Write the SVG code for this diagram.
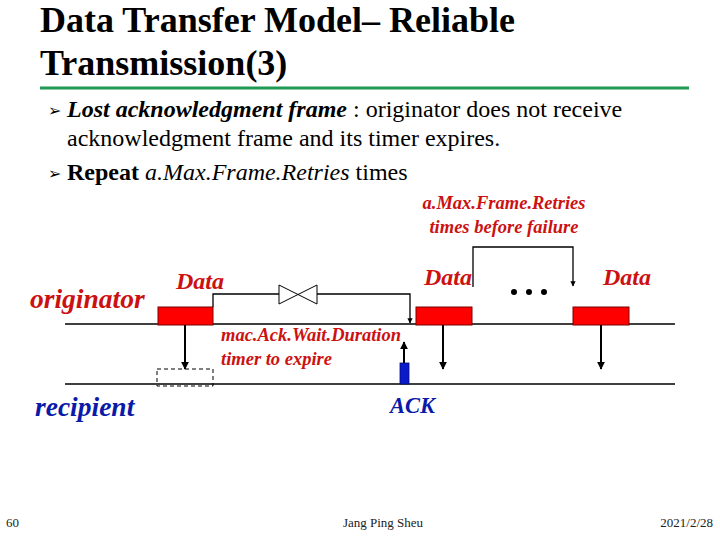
<svg xmlns="http://www.w3.org/2000/svg" width="720" height="540" viewBox="0 0 720 540" font-family="'Liberation Serif', 'Times New Roman', serif">
<style>
text{font-family:'Liberation Serif','Times New Roman',serif}
.title{font-size:36px;font-weight:bold;fill:#000}
.b{font-size:24px;fill:#000}
.red{fill:#cc1111;font-weight:bold;font-style:italic}
.blue{fill:#0a1aa8;font-style:italic;font-weight:bold}
.ln{stroke:#000;stroke-width:1.3;fill:none}
.ar{stroke:#000;stroke-width:2;fill:none}
.box{fill:#ff0000;stroke:#7a0000;stroke-width:1}
.foot{font-size:13px;fill:#222}
</style>
<defs>
<marker id="ah" viewBox="0 0 10 10" refX="9" refY="5" markerWidth="4" markerHeight="4" orient="auto">
<path d="M0,0 L10,5 L0,10 z" fill="#000"/>
</marker>
</defs>
<rect width="720" height="540" fill="#fff"/>
<g id="title">
<text class="title" x="40" y="32">Data Transfer Model– Reliable</text>
<text class="title" x="40" y="75">Transmission(3)</text>
<line x1="40" y1="88" x2="689" y2="88" stroke="#1f9a55" stroke-width="3"/>
</g>
<g id="bullets">
<text x="48" y="116" font-size="16" fill="#000" font-family="'DejaVu Sans', sans-serif">➢</text>
<text class="b" x="67" y="117"><tspan font-weight="bold" font-style="italic">Lost acknowledgment frame</tspan> : originator does not receive</text>
<text class="b" x="67" y="146">acknowledgment frame and its timer expires.</text>
<text x="48" y="179" font-size="16" fill="#000" font-family="'DejaVu Sans', sans-serif">➢</text>
<text class="b" x="67" y="180"><tspan font-weight="bold">Repeat</tspan> <tspan font-style="italic">a.Max.Frame.Retries</tspan> times</text>
</g>
<g id="retries-label">
<text class="red" x="504" y="209" font-size="18.5" text-anchor="middle">a.Max.Frame.Retries</text>
<text class="red" x="504" y="233" font-size="18.5" text-anchor="middle">times before failure</text>
</g>
<g id="originator">
<text class="red" x="30" y="308" font-size="27.5">originator</text>
</g>
<g id="recipient">
<text class="blue" x="35" y="416" font-size="27.5">recipient</text>
</g>
<g id="timelines">
<line class="ln" x1="65" y1="324" x2="675" y2="324"/>
<line class="ln" x1="65" y1="384" x2="675" y2="384"/>
</g>
<g id="data1">
<text class="red" x="176" y="289" font-size="24">Data</text>
<rect class="box" x="158" y="307" width="55" height="18"/>
</g>
<g id="lost-frame">
<rect x="157" y="369" width="56" height="17" fill="none" stroke="#000" stroke-width="1" stroke-dasharray="4,3"/>
</g>
<g id="data2">
<text class="red" x="424" y="285" font-size="24">Data</text>
<rect class="box" x="416" y="307" width="56" height="18"/>
</g>
<g id="dots">
<circle cx="514" cy="292" r="3" fill="#000"/>
<circle cx="529" cy="292" r="3" fill="#000"/>
<circle cx="544" cy="292" r="3" fill="#000"/>
</g>
<g id="data3">
<text class="red" x="603" y="285" font-size="24">Data</text>
<rect class="box" x="573" y="307" width="56" height="18"/>
</g>
<g id="ack">
<rect x="400" y="363" width="9" height="21" fill="#0a1acc" stroke="#001070" stroke-width="0.8"/>
<text class="blue" x="390" y="413" font-size="22.5">ACK</text>
</g>
<g id="timer-label">
<text class="red" x="221" y="341" font-size="18.5">mac.Ack.Wait.Duration</text>
<text class="red" x="221" y="365" font-size="18.5">timer to expire</text>
</g>
<g id="timer-symbol">
<path d="M279,285 L279,304 L317,285 L317,304 Z" fill="#fff" stroke="#000" stroke-width="1"/>
</g>
<g id="connectors">
<line class="ar" x1="185" y1="325" x2="185" y2="369" marker-end="url(#ah)"/>
<path class="ln" d="M213,307 V294 H279 M317,294 H410 V323" marker-end="url(#ah)"/>
<line class="ar" x1="404" y1="363" x2="404" y2="342" marker-end="url(#ah)"/>
<line class="ar" x1="443" y1="325" x2="443" y2="369" marker-end="url(#ah)"/>
<line class="ar" x1="601" y1="325" x2="601" y2="369" marker-end="url(#ah)"/>
<path class="ln" d="M473,287 V247 H573 V286" marker-end="url(#ah)"/>
</g>
<g id="footer">
<text class="foot" x="6" y="527">60</text>
<text class="foot" x="383" y="527" text-anchor="middle">Jang Ping Sheu</text>
<text class="foot" x="713" y="527" text-anchor="end">2021/2/28</text>
</g>
</svg>
